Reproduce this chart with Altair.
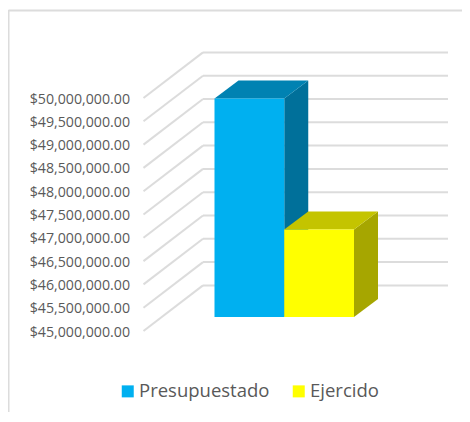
import altair as alt
import pandas as pd

categories = ["Presupuestado", "Ejercido"]
values = [49690000, 46880000]
axis_ticks = [45000000, 45500000, 46000000, 46500000, 47000000, 47500000,
              48000000, 48500000, 49000000, 49500000, 50000000]
front_colors = ["#00B0F0", "#FFFF00"]
top_colors = ["#0082B2", "#C4C400"]
side_colors = ["#00709A", "#A6A600"]

GRID = "#DCDCDC"
TEXT = "#595959"
FONT = "Open Sans"

# projection
PLOT_W, PLOT_H = 304.5, 279
PX_PER_DOLLAR = 46.6 / 1e6
Y0 = 45000000
Y1 = Y0 + PLOT_H / PX_PER_DOLLAR
WALL_DX = 59.5
WALL_DY = 45.6 / PX_PER_DOLLAR
BAR_X0 = 71
BAR_W = 69.75
BAR_DX = 24
BAR_DY = 18 / PX_PER_DOLLAR
BASE_SHIFT = 14 / PX_PER_DOLLAR

y_axis = alt.Axis(values=axis_ticks, format="$,.2f", title=None, domain=False, ticks=False, grid=False,
                  labelFont=FONT, labelFontSize=14.2, labelColor=TEXT, labelPadding=14, labelOffset=1,
                  labelOverlap=False)
xs = alt.Scale(domain=[0, PLOT_W], range=[0, PLOT_W], nice=False, zero=False)
ys = alt.Scale(domain=[Y0, Y1], nice=False, zero=False)
X = lambda f: alt.X(f, type="quantitative", scale=xs, axis=None)
Y = lambda f: alt.Y(f, type="quantitative", scale=ys, axis=y_axis)

back = pd.DataFrame({"x": [WALL_DX] * len(axis_ticks), "x2": [PLOT_W] * len(axis_ticks),
                     "y": [t + WALL_DY for t in axis_ticks]})
grid_back = alt.Chart(back).mark_rule(color=GRID, strokeWidth=2).encode(
    x=X("x"), x2="x2", y=Y("y"))

diag_rows = []
for t in axis_ticks:
    diag_rows.append({"tick": t, "x": 0, "y": t, "o": 0})
    diag_rows.append({"tick": t, "x": WALL_DX, "y": t + WALL_DY, "o": 1})
grid_diag = alt.Chart(pd.DataFrame(diag_rows)).mark_line(color=GRID, strokeWidth=2).encode(
    x=X("x"), y=Y("y"), detail="tick:N", order="o:Q")

layers = [grid_back, grid_diag]
for i, (cat, v) in enumerate(zip(categories, values)):
    x0 = BAR_X0 + i * BAR_W
    x1 = x0 + BAR_W
    base = Y0 + BASE_SHIFT
    top = v + BASE_SHIFT
    side = pd.DataFrame({"x": [x1, x1 + BAR_DX], "y": [base, base + BAR_DY], "y2": [top, top + BAR_DY]})
    layers.append(alt.Chart(side).mark_area(color=side_colors[i], orient="vertical").encode(
        x=X("x"), y=Y("y"), y2="y2"))
    topf = pd.DataFrame({"y": [top, top + BAR_DY], "x": [x0, x0 + BAR_DX], "x2": [x1, x1 + BAR_DX]})
    layers.append(alt.Chart(topf).mark_area(color=top_colors[i], orient="horizontal").encode(
        y=Y("y"), x=X("x"), x2="x2"))
    front = pd.DataFrame({"cat": [cat], "x": [x0], "x2": [x1], "y": [base], "y2": [top]})
    layers.append(alt.Chart(front).mark_rect().encode(
        x=X("x"), x2="x2", y=Y("y"), y2="y2",
        color=alt.Color("cat:N", scale=alt.Scale(domain=categories, range=front_colors),
                        legend=alt.Legend(
                            title=None, orient="none", legendX=-25, legendY=330,
                            direction="horizontal", columns=2, symbolType="square", symbolSize=144,
                            symbolStrokeWidth=0, labelFont=FONT, labelFontSize=18.5, labelColor=TEXT,
                            labelOffset=2, columnPadding=20, padding=0))))

frame_top = alt.Chart(pd.DataFrame({"a": [0]})).mark_rule(color=GRID, strokeWidth=2).encode(
    x=alt.value(-135), x2=alt.value(330), y=alt.value(-41.5))
frame_left = alt.Chart(pd.DataFrame({"a": [0]})).mark_rule(color=GRID, strokeWidth=2).encode(
    x=alt.value(-135), y=alt.value(-42), y2=alt.value(370))
layers += [frame_top, frame_left]

chart = alt.layer(*layers).properties(
    width=PLOT_W, height=PLOT_H,
    autosize=alt.AutoSizeParams(type="none"),
    padding={"left": 135.5, "top": 44, "right": 14, "bottom": 81},
    background="white",
).configure_view(stroke=None)

chart.save("out.html", embed_options={"renderer": "svg", "actions": False})
